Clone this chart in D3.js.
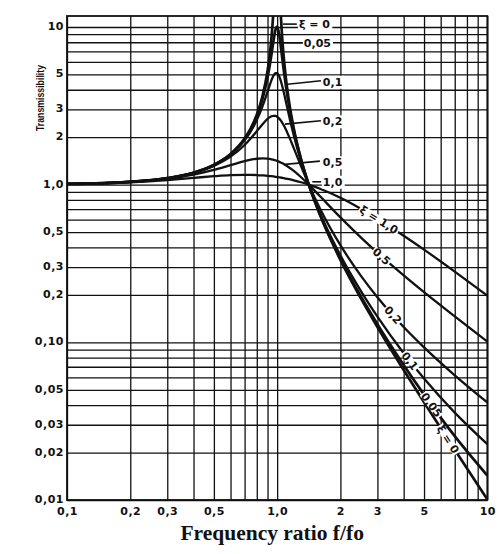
<!DOCTYPE html>
<html lang="en">
<head>
<meta charset="UTF-8">
<title>Transmissibility</title>
<script src="https://d3js.org/d3.v7.min.js"></script>
<style>
  body { margin: 0; background: #fff; }
  .tick-label { font-family: "DejaVu Sans", sans-serif; font-weight: bold; font-size: 11px; letter-spacing: 0.5px; fill: #111; }
  .curve-label { font-family: "DejaVu Sans", sans-serif; font-weight: bold; font-size: 11px; fill: #111; }
</style>
</head>
<body>
<div id="chart"></div>
<script>
// frequency ratio f/fo (x)
const ratio = [0.1, 0.2, 0.3, 0.4, 0.5, 0.6, 0.7, 0.75, 0.8, 0.85, 0.9, 0.92, 0.94, 0.96, 0.98, 1.0,
               1.02, 1.04, 1.06, 1.08, 1.1, 1.15, 1.2, 1.3, 1.414, 1.6, 2, 2.5, 3, 4, 5, 7, 10];

// transmissibility for each damping ratio
const xi0   = [1.010, 1.042, 1.099, 1.190, 1.333, 1.563, 1.961, 2.286, 2.778, 3.604, 5.263, 6.510, 8.591, 12.76, 25.25, null,
               24.75, 12.25, 8.09, 6.01, 4.762, 3.101, 2.273, 1.449, 1.0, 0.641, 0.333, 0.1905, 0.125, 0.0667, 0.0417, 0.0208, 0.0101];
const xi005 = [1.010, 1.042, 1.099, 1.190, 1.332, 1.559, 1.947, 2.259, 2.720, 3.458, 4.776, 5.609, 6.713, 8.105, 9.51, 10.05,
               9.16, 7.606, 6.176, 5.070, 4.244, 2.940, 2.208, 1.436, 1.0, 0.646, 0.339, 0.196, 0.1304, 0.0718, 0.0466, 0.0254, 0.0143];
const xi01  = [1.010, 1.042, 1.099, 1.189, 1.328, 1.547, 1.909, 2.186, 2.571, 3.117, 3.882, 4.242, 4.602, 4.910, 5.096, 5.099,
               4.908, 4.571, 4.166, 3.752, 3.367, 2.590, 2.052, 1.401, 1.0, 0.659, 0.356, 0.212, 0.1454, 0.0853, 0.0589, 0.0358, 0.0226];
const xi02  = [1.010, 1.041, 1.097, 1.184, 1.314, 1.505, 1.785, 1.968, 2.180, 2.407, 2.611, 2.672, 2.714, 2.733, 2.726, 2.693,
               2.634, 2.555, 2.459, 2.353, 2.241, 1.959, 1.704, 1.305, 1.0, 0.704, 0.413, 0.265, 0.193, 0.125, 0.0929, 0.0618, 0.0416];
const xi05  = [1.010, 1.040, 1.090, 1.158, 1.240, 1.329, 1.409, 1.440, 1.460, 1.468, 1.463, 1.457, 1.449, 1.439, 1.428, 1.414,
               1.399, 1.383, 1.366, 1.347, 1.328, 1.276, 1.222, 1.114, 1.0, 0.844, 0.620, 0.463, 0.370, 0.266, 0.208, 0.146, 0.101];
const xi10  = [1.010, 1.036, 1.070, 1.104, 1.131, 1.149, 1.155, 1.154, 1.151, 1.145, 1.138, 1.134, 1.131, 1.127, 1.122, 1.118,
               1.114, 1.109, 1.104, 1.099, 1.094, 1.080, 1.066, 1.036, 1.0, 0.942, 0.825, 0.703, 0.608, 0.474, 0.387, 0.281, 0.198];

const series = [xi0, xi005, xi01, xi02, xi05, xi10];

// tick labels
const xTicks = [0.1, 0.2, 0.3, 0.5, 1, 2, 3, 5, 10];
const xTickText = ["0,1", "0,2", "0,3", "0,5", "1,0", "2", "3", "5", "10"];
const yTicks = [10, 5, 3, 2, 1, 0.5, 0.3, 0.2, 0.1, 0.05, 0.03, 0.02, 0.01];
const yTickText = ["10", "5", "3", "2", "1,0", "0,5", "0,3", "0,2", "0,10", "0,05", "0,03", "0,02", "0,01"];

// labels at the top right, with leader lines (data units)
const topLabels = [
  {text: "ξ = 0", at: [1.27, 10.43], from: [1.065, 10.43], to: [1.24, 10.43]},
  {text: "0,05",  at: [1.34, 7.94],  from: [1.07, 7.94],   to: [1.326, 7.94]},
  {text: "0,1",   at: [1.65, 4.49],  from: [1.12, 4.33],   to: [1.615, 4.56]},
  {text: "0,2",   at: [1.65, 2.52],  from: [1.089, 2.42],  to: [1.615, 2.54]},
  {text: "0,5",   at: [1.65, 1.385], from: [1.089, 1.345], to: [1.597, 1.411]},
  {text: "1,0",   at: [1.65, 1.043], from: [1.47, 1.043],  to: [1.62, 1.043]}
];
// labels written along the falling branches
const lineLabels = [
  {text: "ξ = 1,0", s: 5, r: 3.05},
  {text: "0,5",     s: 4, r: 3.14},
  {text: "0,2",     s: 3, r: 3.56},
  {text: "0,1",     s: 2, r: 4.28},
  {text: "0,05",    s: 1, r: 5.43},
  {text: "ξ = 0",   s: 0, r: 6.5}
];

const W = 504, H = 554;
const svg = d3.select("#chart").append("svg")
    .attr("width", W).attr("height", H)
    .style("background", "#fff");

const x = d3.scaleLog().domain([0.1, 10]).range([67, 487.3]);
const y = d3.scaleLog().domain([0.01, 11.74]).range([500, 16]);

const x0 = x(0.1), x1 = x(10), yTop = y(11.74), yBot = y(0.01);

// grid: 1..9 in each decade
const gridX = [], gridY = [];
[0.1, 1].forEach(d => { for (let k = 1; k <= 9; k++) gridX.push(+(d * k).toFixed(3)); });
gridX.push(10);
[0.01, 0.1, 1].forEach(d => { for (let k = 1; k <= 9; k++) gridY.push(+(d * k).toFixed(4)); });
gridY.push(10);

svg.append("g")
    .attr("transform", "translate(0," + yBot + ")")
    .call(d3.axisBottom(x).tickValues(gridX).tickSize(-(yBot - yTop)).tickFormat(""))
    .call(g => g.select(".domain").remove())
    .selectAll("line").attr("stroke", "#111").attr("stroke-width", 1.3);

svg.append("g")
    .attr("transform", "translate(" + x0 + ",0)")
    .call(d3.axisLeft(y).tickValues(gridY).tickSize(-(x1 - x0)).tickFormat(""))
    .call(g => g.select(".domain").remove())
    .selectAll("line").attr("stroke", "#111").attr("stroke-width", 1.3);

svg.append("rect")
    .attr("x", x0).attr("y", yTop)
    .attr("width", x1 - x0).attr("height", yBot - yTop)
    .attr("fill", "none").attr("stroke", "#111").attr("stroke-width", 1.8);

// tick labels
svg.append("g")
    .attr("transform", "translate(" + (x0 - 3) + ",-1)")
    .call(d3.axisLeft(y).tickValues(yTicks).tickSize(0).tickPadding(0)
        .tickFormat((d, i) => yTickText[i]))
    .call(g => g.select(".domain").remove())
    .call(g => g.attr("font-size", null).attr("font-family", null))
    .selectAll("text").attr("class", "tick-label");

svg.append("g")
    .attr("transform", "translate(0," + (yBot + 7) + ")")
    .call(d3.axisBottom(x).tickValues(xTicks).tickSize(0).tickPadding(0)
        .tickFormat((d, i) => xTickText[i]))
    .call(g => g.select(".domain").remove())
    .call(g => g.attr("font-size", null).attr("font-family", null))
    .selectAll("text").attr("class", "tick-label");

// curves
svg.append("clipPath").attr("id", "plot")
  .append("rect").attr("x", x0).attr("y", yTop).attr("width", x1 - x0).attr("height", yBot - yTop);

const line = d3.line()
    .defined(d => d[1] != null)
    .x(d => x(d[0]))
    .y(d => y(d[1]))
    .curve(d3.curveMonotoneX);

svg.append("g").attr("clip-path", "url(#plot)")
  .selectAll("path")
  .data(series)
  .join("path")
    .attr("d", s => line(ratio.map((r, i) => [r, s[i]])))
    .attr("fill", "none")
    .attr("stroke", "#111")
    .attr("stroke-width", (s, i) => i < 2 ? 2.7 : 2.3)
    .attr("stroke-linejoin", "round");

// value of a series at r, interpolated in log space (for placing labels)
function valueAt(s, r) {
  for (let i = 0; i < ratio.length - 1; i++) {
    if (r >= ratio[i] && r <= ratio[i + 1] && s[i] != null && s[i + 1] != null) {
      const t = (Math.log(r) - Math.log(ratio[i])) / (Math.log(ratio[i + 1]) - Math.log(ratio[i]));
      return Math.exp(Math.log(s[i]) + t * (Math.log(s[i + 1]) - Math.log(s[i])));
    }
  }
  return null;
}

// leader lines and top labels
const topG = svg.append("g");
topLabels.forEach(l => {
  const g = topG.append("g");
  const t = g.append("text").attr("class", "curve-label")
      .attr("x", x(l.at[0])).attr("y", y(l.at[1])).attr("dy", "0.36em").text(l.text);
  const b = t.node().getBBox();
  g.insert("rect", "text")
      .attr("x", b.x - 1).attr("y", b.y).attr("width", b.width + 3).attr("height", b.height)
      .attr("fill", "#fff");
  g.insert("line", "rect")
      .attr("x1", x(l.from[0])).attr("y1", y(l.from[1]))
      .attr("x2", x(l.to[0])).attr("y2", y(l.to[1]))
      .attr("stroke", "#111").attr("stroke-width", 1.6);
});

// labels along the lines
lineLabels.forEach(l => {
  const s = series[l.s];
  const px = x(l.r), py = y(valueAt(s, l.r));
  const pa = [x(l.r * 0.9), y(valueAt(s, l.r * 0.9))];
  const pb = [x(l.r * 1.1), y(valueAt(s, l.r * 1.1))];
  const ang = Math.atan2(pb[1] - pa[1], pb[0] - pa[0]) * 180 / Math.PI;
  const g = svg.append("g").attr("transform", "translate(" + px + "," + py + ") rotate(" + ang + ")");
  const t = g.append("text").attr("class", "curve-label")
      .attr("text-anchor", "middle").attr("dy", "0.36em").text(l.text);
  const b = t.node().getBBox();
  g.insert("rect", "text")
      .attr("x", b.x - 1).attr("y", -4).attr("width", b.width + 2).attr("height", 8)
      .attr("fill", "#fff");
});

// axis titles
svg.append("text")
    .attr("transform", "translate(40,98) rotate(-90)")
    .attr("text-anchor", "middle").attr("dy", "0.35em")
    .attr("textLength", 66).attr("lengthAdjust", "spacingAndGlyphs")
    .style("font-family", "'Liberation Sans', Arial, sans-serif")
    .style("font-weight", "bold").style("font-size", "11.5px").style("fill", "#111")
    .text("Transmissibility");

svg.append("text")
    .attr("x", (x0 + x1) / 2 - 5).attr("y", 540)
    .attr("text-anchor", "middle")
    .style("font-family", "'Liberation Serif', 'Times New Roman', serif")
    .style("font-weight", "bold").style("font-size", "21.5px").style("fill", "#111")
    .text("Frequency ratio f/fo");
</script>
</body>
</html>
